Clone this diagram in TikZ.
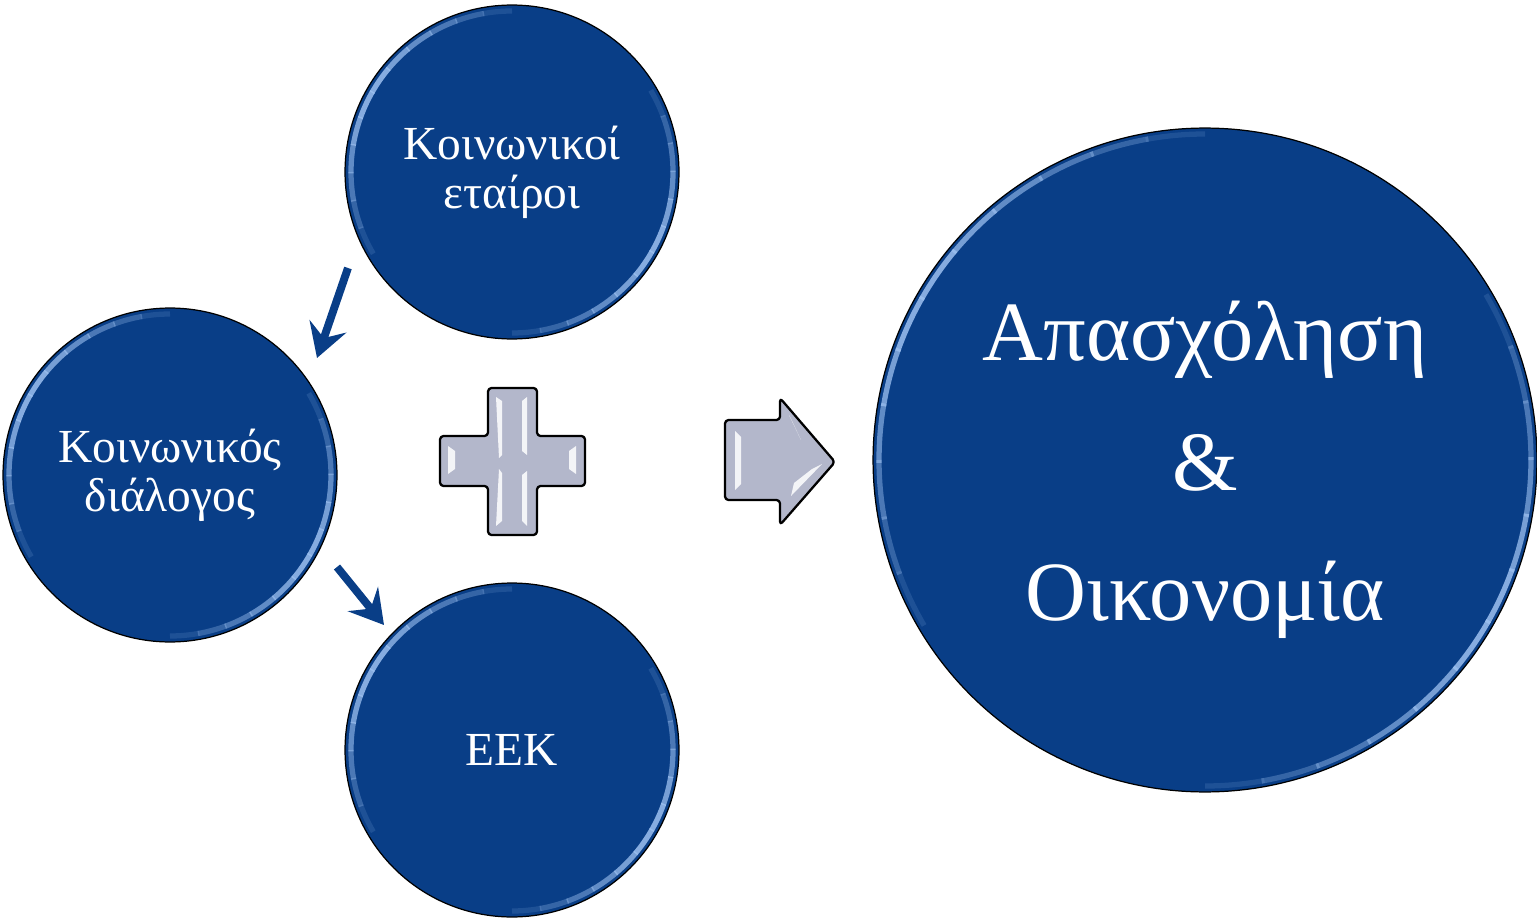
\documentclass[tikz,border=0pt]{standalone}
\usepackage{fontspec}
\setmainfont{Liberation Serif}
\usetikzlibrary{arrows.meta}
\definecolor{cblue}{HTML}{093E87}
\definecolor{hlblue}{HTML}{9CC0F0}
\definecolor{pgray}{HTML}{B3B7CB}
\newcommand\ballhl[2]{%
  \foreach \c in {150,-30}{%
    \foreach \d/\o in {-60/0.15,-50/0.3,-40/0.45,-30/0.6,-20/0.75,-10/0.85,0/0.85,10/0.75,20/0.6,30/0.45,40/0.3,50/0.15}{%
      \draw[hl, opacity=\o] (#1.center) ++({\c+\d}:#2) arc[start angle={\c+\d}, delta angle=10.5, radius=#2];}}}
\begin{document}
\begin{tikzpicture}[x=0.02cm,y=0.02cm,
  ball/.style={circle, draw=black, line width=0.7pt, fill=cblue, text=white,
    inner sep=0pt, align=center, minimum size=6.68cm,
    font=\fontsize{27}{28}\selectfont},
  bigball/.style={ball, minimum size=13.28cm},
  hl/.style={hlblue, line width=3pt, line cap=butt},
  bev/.style={white, opacity=0.85},
  shape3d/.style={draw=black, line width=1.3pt, fill=pgray, rounded corners=2pt, line join=round},
  darr/.style={cblue, line width=4.5pt, -{Stealth[length=19pt, width=22pt, inset=7pt]}}]
\useasboundingbox (0,0) rectangle (1537,921);

% circles
\node[ball] (top) at (512,749) {Κοινωνικοί\\εταίροι};
\node[ball] (left) at (170,446) {Κοινωνικός\\διάλογος};
\node[ball] (bottom) at (512,171) {ΕΕΚ};
\node[bigball] (big) at (1205,461) {};
\node[text=white, align=center, font=\fontsize{48}{74}\selectfont] (bigtext) at (1205,451) {Απασχόληση\\\&\\Οικονομία};

\ballhl{top}{161}
\ballhl{left}{161}
\ballhl{bottom}{161}
\ballhl{big}{326}

% small arrows
\coordinate (a1s) at (348,653);
\coordinate (a1e) at (317,563);
\coordinate (a2s) at (337,354);
\coordinate (a2e) at (384,296);
\draw[darr] (a1s) -- (a1e);
\draw[darr] (a2s) -- (a2e);

% plus sign
\path[shape3d] (488,533) -- (537,533) -- (537,485) -- (585,485) -- (585,435) -- (537,435)
  -- (537,386) -- (488,386) -- (488,435) -- (440,435) -- (440,485) -- (488,485) -- cycle;
\fill[bev] (496,524) -- (502,520) -- (502,466) -- (499,463) -- cycle;
\fill[bev] (527,524) -- (522,520) -- (522,470) -- (527,466) -- cycle;
\fill[bev] (496,395) -- (502,400) -- (502,448) -- (499,452) -- cycle;
\fill[bev] (527,395) -- (522,400) -- (522,446) -- (527,450) -- cycle;
\fill[bev] (448,475) -- (455,470) -- (455,452) -- (448,447) -- cycle;
\fill[bev] (576,475) -- (569,470) -- (569,452) -- (576,447) -- cycle;

% right arrow
\path[shape3d] (725,501) -- (780,501) -- (780,523) -- (835,459) -- (780,396) -- (780,421) -- (725,421) -- cycle;
\fill[bev] (735,490) -- (741,484) -- (741,437) -- (735,431) -- cycle;
\fill[bev] (789,506) -- (793,498) -- (801,481) -- cycle;
\fill[bev] (791,425) -- (794,438) -- (812,452) -- (822,457) -- cycle;
\end{tikzpicture}
\end{document}
